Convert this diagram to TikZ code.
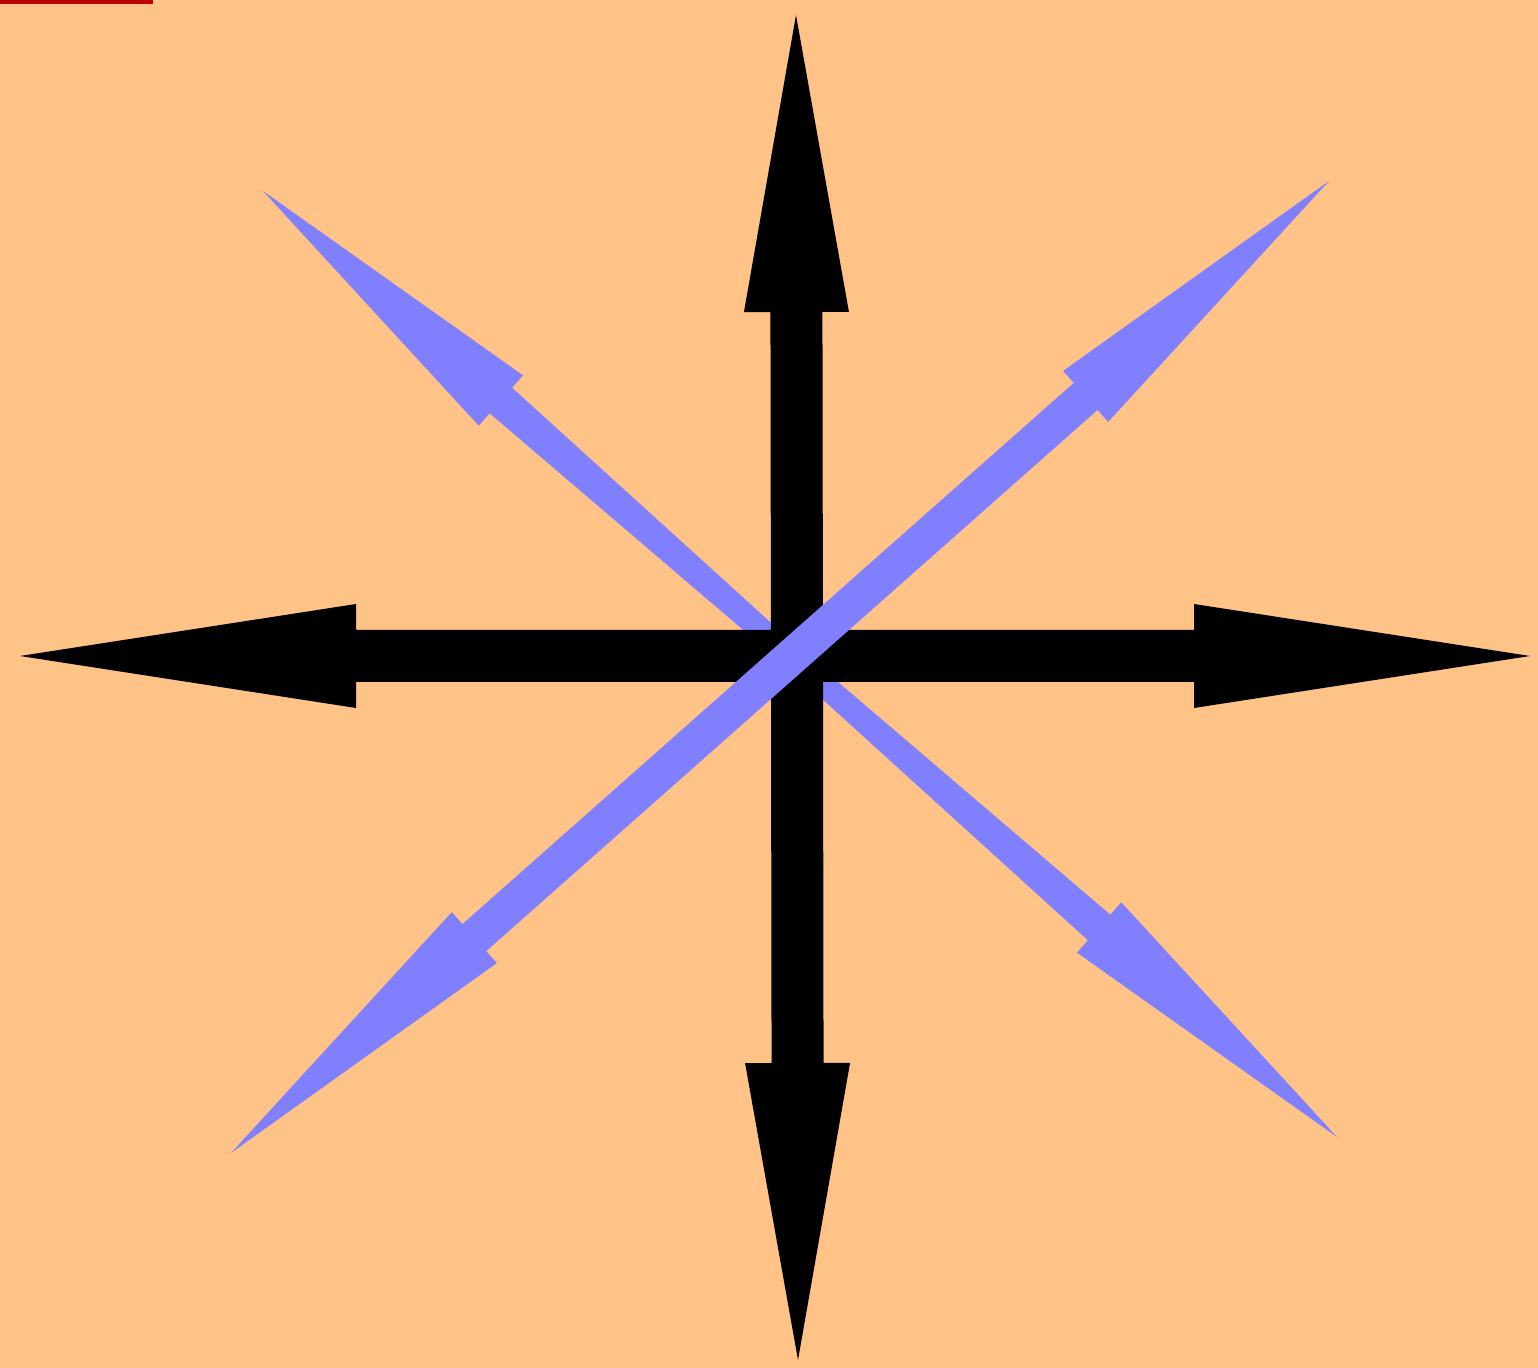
\documentclass[tikz,border=0pt]{standalone}
\usetikzlibrary{calc}
\definecolor{bgpeach}{RGB}{255,195,135}
\definecolor{arrblue}{RGB}{128,128,255}
\definecolor{barred}{RGB}{192,0,0}
\tikzset{
  blackarrow/.style={fill=black},
  bluearrow/.style={fill=arrblue},
}
% #1 tip A, #2 tip B, #3 head length, #4 head half width,
% #5 shaft half width at head, #6 shaft half width at middle, #7 style
\newcommand\bigdblarrow[7]{%
  \path coordinate (#1h) at ($(#1)!#3!(#2)$)
        coordinate (#2h) at ($(#2)!#3!(#1)$)
        coordinate (#1#2m) at ($(#1)!0.5!(#2)$);
  \fill[#7] (#1) -- ($(#1h)!#4!90:(#2)$) -- ($(#1h)!#5!90:(#2)$)
     -- ($(#1#2m)!#6!90:(#2)$)
     -- ($(#2h)!#5!-90:(#1)$) -- ($(#2h)!#4!-90:(#1)$) -- (#2)
     -- ($(#2h)!#4!90:(#1)$) -- ($(#2h)!#5!90:(#1)$)
     -- ($(#1#2m)!#6!-90:(#2)$)
     -- ($(#1h)!#5!-90:(#2)$) -- ($(#1h)!#4!-90:(#2)$) -- cycle;
}
\begin{document}
\begin{tikzpicture}[x=0.5pt,y=-0.5pt]
  \useasboundingbox (0,0) rectangle (1538,1368);
  \fill[bgpeach] (0,0) rectangle (1538,1368);
  \fill[barred] (0,0) rectangle (153,4);
  % tips
  \coordinate (nw) at (263,191);
  \coordinate (se) at (1337,1137);
  \coordinate (we) at (20,656);
  \coordinate (ea) at (1530,656);
  \coordinate (no) at (796,15);
  \coordinate (so) at (798,1360);
  \coordinate (sw) at (231,1153);
  \coordinate (ne) at (1329,181);
  % blue NW-SE arrow (beneath the black cross)
  \bigdblarrow{nw}{se}{158.5pt}{16.75pt}{8.5pt}{5.5pt}{bluearrow}
  % black cross
  \bigdblarrow{we}{ea}{168pt}{26pt}{13pt}{13pt}{blackarrow}
  \bigdblarrow{no}{so}{148.5pt}{26.25pt}{13pt}{13pt}{blackarrow}
  % blue SW-NE arrow (above the black cross)
  \bigdblarrow{sw}{ne}{162.5pt}{17pt}{9pt}{9pt}{bluearrow}
\end{tikzpicture}
\end{document}
